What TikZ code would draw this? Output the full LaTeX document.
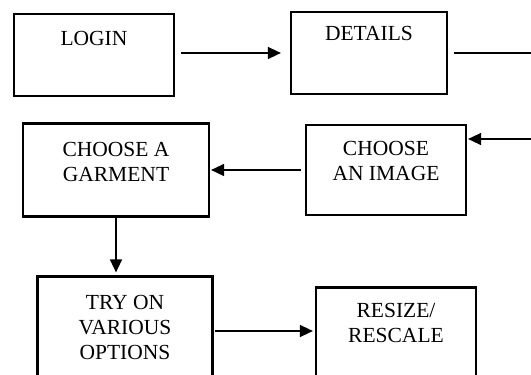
\documentclass[tikz,border=0pt]{standalone}
\usepackage{fontspec}
\setmainfont{Liberation Serif}
\usetikzlibrary{arrows.meta,positioning}

\begin{document}
\begin{tikzpicture}[
            x = 1pt, y = -1pt, % pixel grid, y going down
            > = {Triangle[length=13pt,width=12pt]}, % arrow head style
            line width = 1.5pt, % line style
            box/.style = {draw=black, line width=2.2pt},
            txt/.style = {inner sep=0pt, align=center, font=\fontsize{21.5}{25}\selectfont}
        ]
\useasboundingbox (0,0) rectangle (531,375);
\clip (0,0) rectangle (531,375);

\node[box, minimum width=160pt, minimum height=82pt] (login) at (94,55) {};
\node[box, minimum width=156pt, minimum height=82pt] (details) at (369,53) {};
\node[box, minimum width=186pt, minimum height=93pt] (garment) at (116,170) {};
\node[box, minimum width=160pt, minimum height=90pt] (image) at (386,170) {};
\node[box, minimum width=175pt, minimum height=109pt] (tryon) at (125,331) {};
\node[box, minimum width=160pt, minimum height=99pt] (resize) at (396,337) {};

\node[txt, below=18pt of login.north] {LOGIN};
\node[txt, below=15pt of details.north] {DETAILS};
\node[txt, below=19pt of garment.north] {CHOOSE A\\GARMENT};
\node[txt, below=17pt of image.north] {CHOOSE\\AN IMAGE};
\node[txt, below=19pt of tryon.north] {TRY ON\\VARIOUS\\OPTIONS};
\node[txt, below=16pt of resize.north] {RESIZE/\\RESCALE};

\coordinate (outR) at (540,53);
\coordinate (inR) at (540,139);

 \draw [->] ([xshift=6pt,yshift=2pt]login.east) -- ([xshift=-9pt]details.west);
 \draw ([xshift=6pt]details.east) -- (outR);
 \draw [->, shorten >=1pt] (inR) -- (image.east |- inR);
 \draw [->] ([xshift=-4pt]image.west) -- ([xshift=1pt]garment.east);
 \draw [->, shorten >=3pt] (garment.south) -- (garment.south |- tryon.north);
 \draw [->, shorten >=2pt] ([xshift=1pt]tryon.east) -- (tryon.east -| resize.west);
\end{tikzpicture}
\end{document}
